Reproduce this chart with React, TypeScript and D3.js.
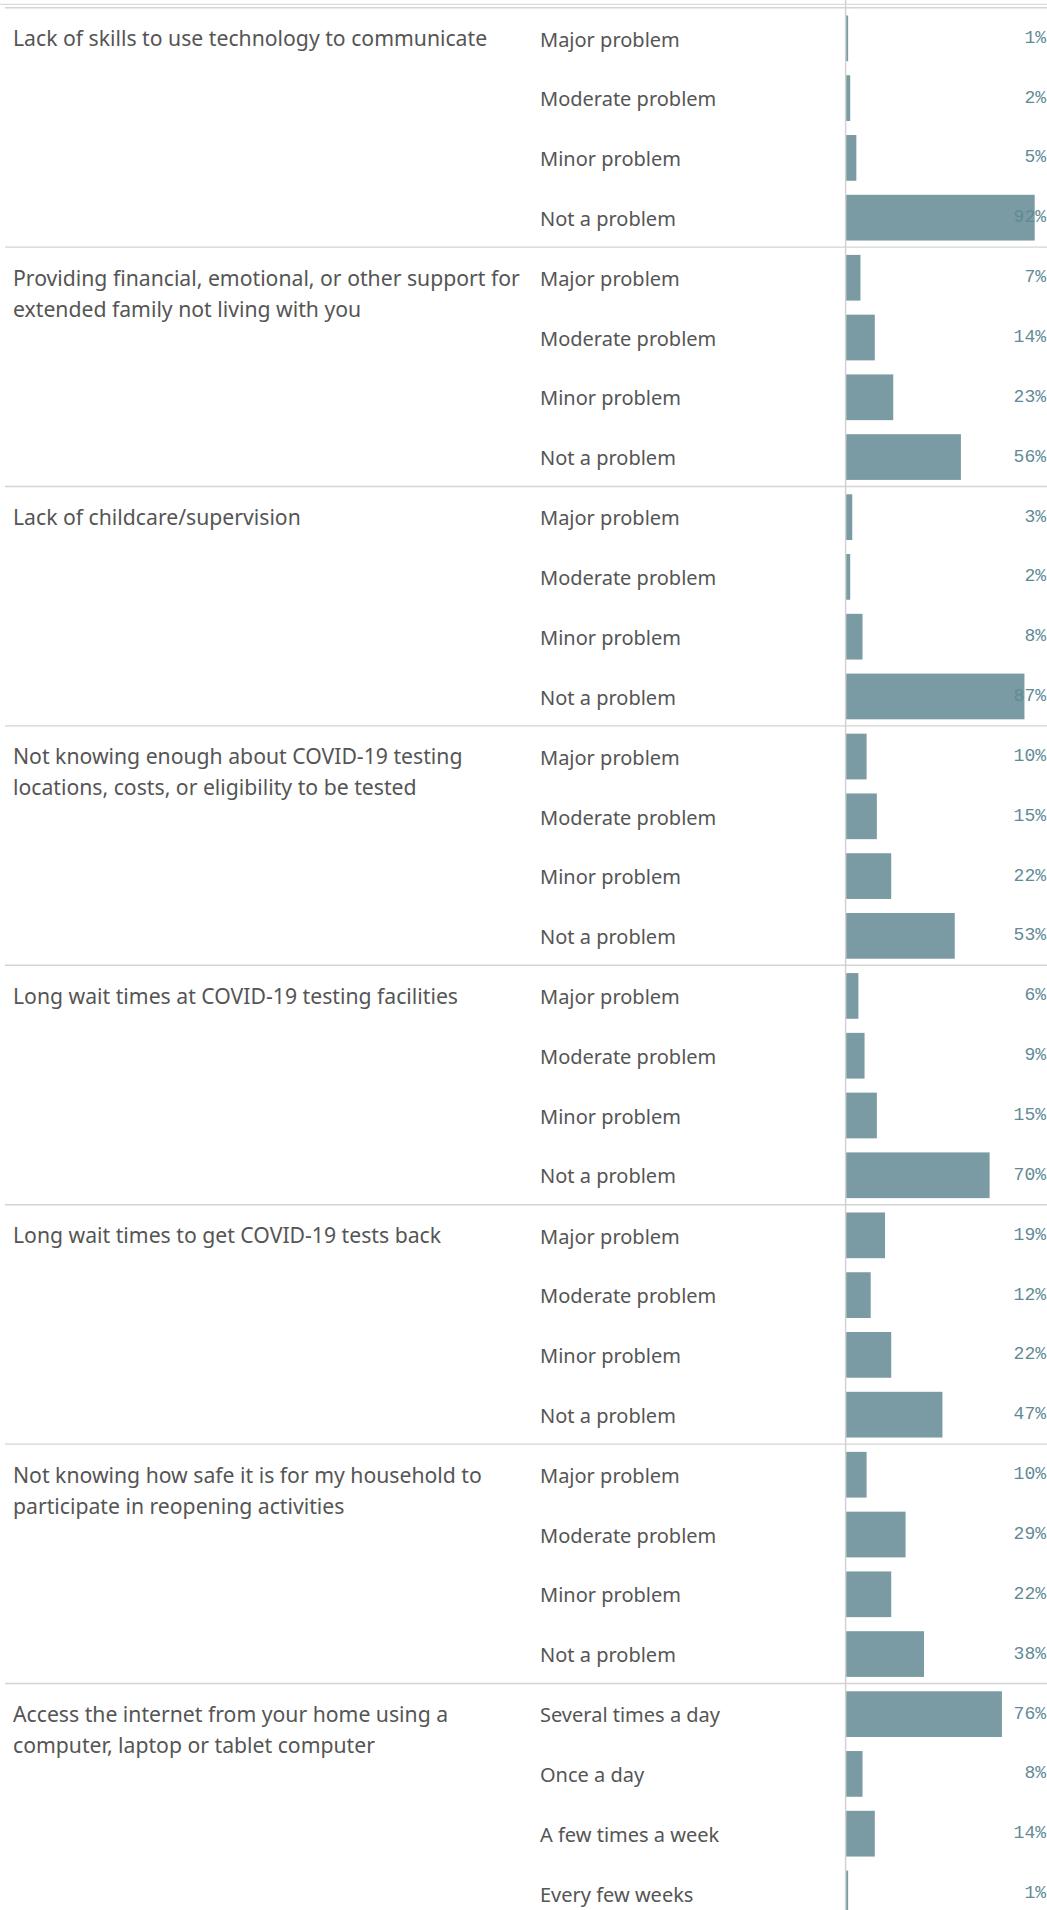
import * as d3 from "d3";

const problemLevels = ["Major problem", "Moderate problem", "Minor problem", "Not a problem"];
const frequencyLevels = ["Several times a day", "Once a day", "A few times a week", "Every few weeks"];

const categoryLines = [
  ["Lack of skills to use technology to communicate"],
  ["Providing financial, emotional, or other support for", "extended family not living with you"],
  ["Lack of childcare/supervision"],
  ["Not knowing enough about COVID-19 testing", "locations, costs, or eligibility to be tested"],
  ["Long wait times at COVID-19 testing facilities"],
  ["Long wait times to get COVID-19 tests back"],
  ["Not knowing how safe it is for my household to", "participate in reopening activities"],
  ["Access the internet from your home using a", "computer, laptop or tablet computer"],
];

// percent of respondents, in the order of the row labels
const techSkills = [1, 2, 5, 92];
const familySupport = [7, 14, 23, 56];
const childcare = [3, 2, 8, 87];
const testingInfo = [10, 15, 22, 53];
const testingWait = [6, 9, 15, 70];
const resultsWait = [19, 12, 22, 47];
const reopeningSafety = [10, 29, 22, 38];
const internetAccess = [76, 8, 14, 1];

const seriesValues = [
  techSkills,
  familySupport,
  childcare,
  testingInfo,
  testingWait,
  resultsWait,
  reopeningSafety,
  internetAccess,
];

const W = 1047;
const H = 1910;
const groupH = 239.4;
const top0 = 8.3;
const axisX = 845.6;

const textFont = "'Noto Sans', 'Open Sans', sans-serif";
const numFont = "'Liberation Mono', 'DejaVu Sans Mono', monospace";

export default function App() {
  const groups = categoryLines.map((lines, i) => ({
    lines,
    levels: i === categoryLines.length - 1 ? frequencyLevels : problemLevels,
    values: seriesValues[i],
  }));

  const groupY = d3
    .scaleBand<number>()
    .domain(d3.range(groups.length))
    .range([top0, top0 + groups.length * groupH]);

  const rowY = d3
    .scaleBand<number>()
    .domain(d3.range(4))
    .range([0, groupH])
    .paddingInner(0.235)
    .paddingOuter(0.12);

  const x = d3.scaleLinear().domain([0, 100]).range([axisX + 0.5, axisX + 0.5 + 205]);

  return (
    <svg
      width={W}
      height={H}
      style={{ position: "absolute", left: 0, top: 0, background: "#fff" }}
    >
      {/* header remnants */}
      <line x1={0} x2={W} y1={4.3} y2={4.3} stroke="#dcdcdc" strokeWidth={1.3} />

      {groups.map((g, gi) => {
        const gy = groupY(gi) || 0;
        const firstMid = gy + (rowY(0) || 0) + rowY.bandwidth() / 2;
        return (
          <g key={gi}>
            <line x1={5} x2={W} y1={gy - 0.6} y2={gy - 0.6} stroke="#d4d4d4" strokeWidth={1.4} />
            {g.lines.map((ln, li) => (
              <text
                key={li}
                x={13}
                y={firstMid + 7.8 + li * 31}
                fontFamily={textFont}
                fontSize={21.2}
                fill="#555555"
              >
                {ln}
              </text>
            ))}
            {g.levels.map((lvl, ri) => {
              const by = gy + (rowY(ri) || 0);
              const mid = by + rowY.bandwidth() / 2;
              const v = g.values[ri];
              return (
                <g key={ri}>
                  <text
                    x={540}
                    y={mid + 8.2}
                    fontFamily={textFont}
                    fontSize={20}
                    fill="#555555"
                  >
                    {lvl}
                  </text>
                  <rect
                    x={x(0)}
                    y={by}
                    width={x(v) - x(0)}
                    height={rowY.bandwidth()}
                    fill="#7a9ba3"
                  />
                  <text
                    x={1046}
                    y={mid + 4.5}
                    textAnchor="end"
                    fontFamily={numFont}
                    fontSize={18}
                    fill="#5f8b96"
                  >
                    {v}%
                  </text>
                </g>
              );
            })}
          </g>
        );
      })}

      <line x1={axisX} x2={axisX} y1={0} y2={H} stroke="#d0d0d0" strokeWidth={1.4} />
    </svg>
  );
}
